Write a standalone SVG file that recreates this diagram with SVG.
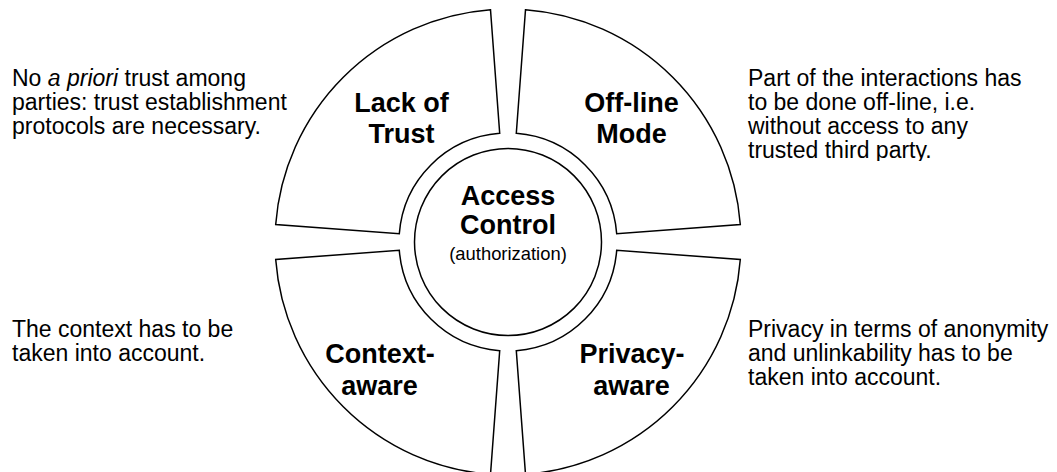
<svg xmlns="http://www.w3.org/2000/svg" width="1057" height="472" viewBox="0 0 1057 472">
  <style>
    .seg { fill: #ffffff; stroke: #000000; stroke-width: 1.5; stroke-linejoin: miter; }
    .lbl { font-family: "Liberation Sans", Arial, sans-serif; font-weight: bold; font-size: 27px; fill: #000000; text-anchor: middle; }
    .sub { font-family: "Liberation Sans", Arial, sans-serif; font-size: 18.4px; fill: #000000; text-anchor: middle; }
    .note { font-family: "Liberation Sans", Arial, sans-serif; font-size: 23px; fill: #000000; }
  </style>
  <defs>
    <clipPath id="clipOff">
      <rect x="740" y="60" width="317" height="101"/>
    </clipPath>
  </defs>
  <rect x="0" y="0" width="1057" height="472" fill="#ffffff"/>

  <g id="lack-of-trust">
    <path class="seg" d="M490.5,9.7 A233,233 0 0 0 275.7,224.5 L399.3,233.7 A109,109 0 0 1 499.7,133.3 Z"/>
    <text class="lbl" x="401.5" y="111.5">Lack of</text>
    <text class="lbl" x="401.5" y="142.5">Trust</text>
  </g>

  <g id="off-line-mode">
    <path class="seg" d="M525.5,9.7 A233,233 0 0 1 740.3,224.5 L616.7,233.7 A109,109 0 0 0 516.3,133.3 Z"/>
    <text class="lbl" x="631.5" y="111.5">Off-line</text>
    <text class="lbl" x="631.5" y="142.5">Mode</text>
  </g>

  <g id="privacy-aware">
    <path class="seg" d="M740.3,259.5 A233,233 0 0 1 525.5,474.3 L516.3,350.7 A109,109 0 0 0 616.7,250.3 Z"/>
    <text class="lbl" x="632" y="363">Privacy-</text>
    <text class="lbl" x="631.5" y="394.5">aware</text>
  </g>

  <g id="context-aware">
    <path class="seg" d="M490.5,474.3 A233,233 0 0 1 275.7,259.5 L399.3,250.3 A109,109 0 0 0 499.7,350.7 Z"/>
    <text class="lbl" x="380" y="363">Context-</text>
    <text class="lbl" x="379.5" y="394.5">aware</text>
  </g>

  <g id="access-control">
    <circle class="seg" cx="508" cy="242" r="93.5"/>
    <text class="lbl" x="508" y="205">Access</text>
    <text class="lbl" x="508" y="234">Control</text>
    <text class="sub" x="508" y="260">(authorization)</text>
  </g>

  <g id="note-lack-of-trust">
    <text class="note" x="12" y="86">No <tspan font-style="italic">a priori</tspan> trust among</text>
    <text class="note" x="12" y="110">parties: trust establishment</text>
    <text class="note" x="12" y="134">protocols are necessary.</text>
  </g>

  <g id="note-off-line" clip-path="url(#clipOff)">
    <text class="note" x="748" y="86">Part of the interactions has</text>
    <text class="note" x="748" y="110">to be done off-line, i.e.</text>
    <text class="note" x="748" y="134">without access to any</text>
    <text class="note" x="748" y="158">trusted third party.</text>
  </g>

  <g id="note-context">
    <text class="note" x="12" y="337">The context has to be</text>
    <text class="note" x="12" y="361">taken into account.</text>
  </g>

  <g id="note-privacy">
    <text class="note" x="748" y="337">Privacy in terms of anonymity</text>
    <text class="note" x="748" y="361">and unlinkability has to be</text>
    <text class="note" x="748" y="385">taken into account.</text>
  </g>

  <g id="connectors"/>
</svg>
